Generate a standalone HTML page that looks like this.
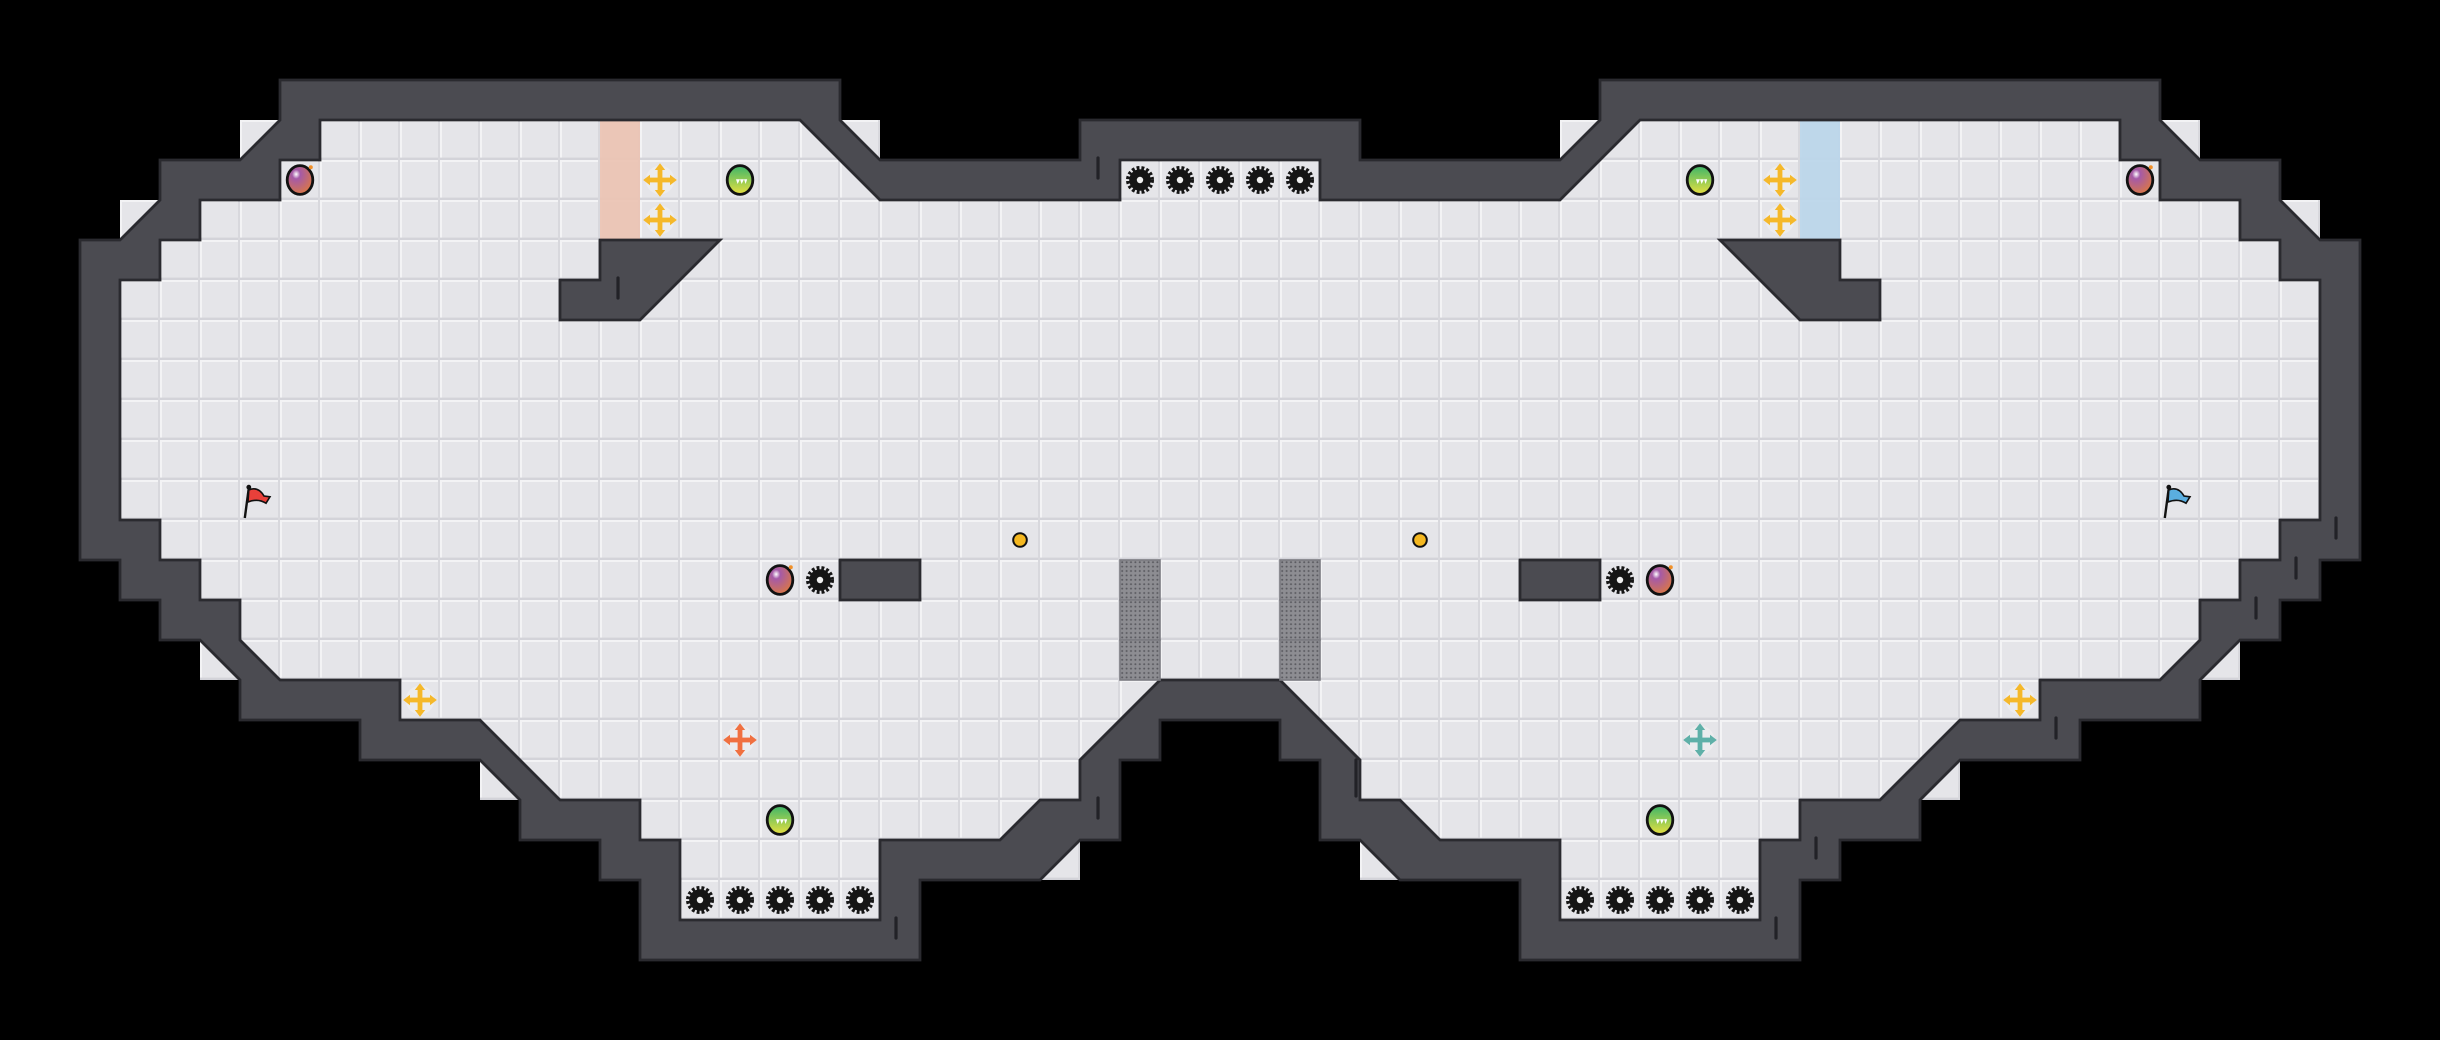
<!DOCTYPE html>
<html><head><meta charset="utf-8"><style>html,body{margin:0;padding:0;background:#000}svg{display:block}</style></head>
<body>
<svg xmlns="http://www.w3.org/2000/svg" width="2440" height="1040" viewBox="0 0 61 26">
<defs>
<pattern id="tile" patternUnits="userSpaceOnUse" width="1" height="1">
<rect width="1" height="1" fill="#e5e5e9"/>
<rect x="0" y="0" width="1" height="0.05" fill="#f3f3f5"/>
<rect x="0" y="0" width="0.05" height="1" fill="#f3f3f5"/>
<rect x="0" y="0.94" width="1" height="0.06" fill="#d3d3d9"/>
<rect x="0.95" y="0" width="0.05" height="1" fill="#d8d8dd"/>
</pattern>
<pattern id="dots" patternUnits="userSpaceOnUse" width="0.11" height="0.11">
<rect width="0.11" height="0.11" fill="#8d8d92"/>
<circle cx="0.055" cy="0.055" r="0.025" fill="#5a5a60"/>
</pattern>
<radialGradient id="bombg" cx="0.35" cy="0.3" r="0.8">
<stop offset="0" stop-color="#ffffff"/><stop offset="0.2" stop-color="#a55aa8"/><stop offset="1" stop-color="#e07a3a"/>
</radialGradient>
<linearGradient id="greeng" x1="0" y1="0" x2="0" y2="1">
<stop offset="0" stop-color="#3cb56a"/><stop offset="1" stop-color="#e8e040"/>
</linearGradient>
<g id="bomb">
<ellipse rx="0.32" ry="0.36" fill="url(#bombg)" stroke="#111" stroke-width="0.07"/>
<circle cx="0.27" cy="-0.32" r="0.05" fill="#f0902a"/>
</g>
<g id="green">
<ellipse rx="0.32" ry="0.36" fill="url(#greeng)" stroke="#111" stroke-width="0.07"/>
<path d="M-0.18 -0.02 L0.18 -0.02 L0.14 0.1 L0.1 -0.02 L0.04 0.1 L0 -0.02 L-0.06 0.1 L-0.1 -0.02 Z" fill="#fff"/>
</g>
<g id="spike">
<circle r="0.3" fill="none" stroke="#151515" stroke-width="0.1" stroke-dasharray="0.07 0.05"/>
<circle r="0.27" fill="#151515"/>
<circle r="0.08" fill="#f0f0f0"/>
</g>
<g id="cross">
<circle r="0.36" fill="#ececee"/>
<rect x="-0.06" y="-0.3" width="0.12" height="0.6"/>
<rect x="-0.3" y="-0.06" width="0.6" height="0.12"/>
<path d="M0 -0.42 L0.13 -0.25 L-0.13 -0.25 Z M0 0.42 L0.13 0.25 L-0.13 0.25 Z M-0.42 0 L-0.25 0.13 L-0.25 -0.13 Z M0.42 0 L0.25 0.13 L0.25 -0.13 Z"/>
</g>
<g id="grate"><rect x="0" y="0" width="1" height="1" fill="url(#dots)" stroke="#7a7a80" stroke-width="0.04"/></g>
</defs>
<rect width="61" height="26" fill="#000"/>
<g fill="url(#tile)">
<polygon points="7,2 21,2 21,3 22,4 27,4 27,3 34,3 34,4 39,4 40,3 40,2 54,2 54,3 55,4 57,4 57,5 58,6 59,6 59,14 58,14 58,15 57,15 57,16 56,16 55,17 55,18 52,18 52,19 49,19 48,20 48,21 46,21 46,22 45,22 45,24 38,24 38,22 35,22 34,21 33,21 33,19 32,19 32,18 29,18 29,19 28,19 28,21 27,21 26,22 23,22 23,24 16,24 16,22 15,22 15,21 13,21 13,20 12,19 9,19 9,18 6,18 6,17 5,16 4,16 4,15 3,15 3,14 2,14 2,6 3,6 4,5 4,4 6,4 7,3"/>
<polygon points="6,3 7,3 6,4"/><polygon points="21,3 22,3 22,4"/><polygon points="3,5 4,5 3,6"/>
<polygon points="5,16 6,17 5,17"/><polygon points="12,19 13,20 12,20"/><polygon points="27,21 27,22 26,22"/>
<polygon points="55,3 54,3 55,4"/><polygon points="40,3 39,3 39,4"/><polygon points="58,5 57,5 58,6"/>
<polygon points="56,16 55,17 56,17"/><polygon points="49,19 48,20 49,20"/><polygon points="34,21 34,22 35,22"/>
</g>
<rect x="15" y="3" width="1" height="3" fill="#ebc4b4" opacity="0.95"/>
<rect x="45" y="3" width="1" height="3" fill="#bcd6ea" opacity="0.95"/>
<path fill-rule="evenodd" fill="#4b4b51" stroke="#2a2a2f" stroke-width="0.07" stroke-linejoin="miter" d="
M7,2 L21,2 21,3 22,4 27,4 27,3 34,3 34,4 39,4 40,3 40,2 54,2 54,3 55,4 57,4 57,5 58,6 59,6 59,14 58,14 58,15 57,15 57,16 56,16 55,17 55,18 52,18 52,19 49,19 48,20 48,21 46,21 46,22 45,22 45,24 38,24 38,22 35,22 34,21 33,21 33,19 32,19 32,18 29,18 29,19 28,19 28,21 27,21 26,22 23,22 23,24 16,24 16,22 15,22 15,21 13,21 13,20 12,19 9,19 9,18 6,18 6,17 5,16 4,16 4,15 3,15 3,14 2,14 2,6 3,6 4,5 4,4 6,4 7,3 Z
M8,3 L20,3 22,5 28,5 28,4 33,4 33,5 39,5 41,3 53,3 53,4 54,4 54,5 56,5 56,6 57,6 57,7 58,7 58,13 57,13 57,14 56,14 56,15 55,15 55,16 54,17 51,17 51,18 49,18 47,20 45,20 45,21 44,21 44,23 39,23 39,21 36,21 35,20 34,20 34,19 32,17 29,17 27,19 27,20 26,20 25,21 22,21 22,23 17,23 17,21 16,21 16,20 14,20 12,18 10,18 10,17 7,17 6,16 6,15 5,15 5,14 4,14 4,13 3,13 3,7 4,7 4,6 5,6 5,5 7,5 7,4 8,4 Z"/>
<g fill="#4b4b51" stroke="#2a2a2f" stroke-width="0.07">
<polygon points="15,6 18,6 16,8 14,8 14,7 15,7"/>
<polygon points="46,6 43,6 45,8 47,8 47,7 46,7"/>
<rect x="21" y="14" width="2" height="1"/>
<rect x="38" y="14" width="2" height="1"/>
</g>
<g stroke="#222227" stroke-width="0.08" stroke-linecap="round">
<line x1="15.45" y1="6.95" x2="15.45" y2="7.45"/>
<line x1="27.45" y1="3.95" x2="27.45" y2="4.45"/>
<line x1="27.45" y1="19.95" x2="27.45" y2="20.45"/>
<line x1="22.4" y1="22.95" x2="22.4" y2="23.45"/>
<line x1="44.4" y1="22.95" x2="44.4" y2="23.45"/>
<line x1="45.4" y1="20.95" x2="45.4" y2="21.45"/>
<line x1="51.4" y1="17.95" x2="51.4" y2="18.45"/>
<line x1="56.4" y1="14.95" x2="56.4" y2="15.45"/>
<line x1="57.4" y1="13.95" x2="57.4" y2="14.45"/>
<line x1="58.4" y1="12.95" x2="58.4" y2="13.45"/>
<line x1="33.9" y1="19" x2="33.9" y2="19.9"/>
</g>
<use href="#grate" x="28" y="14"/><use href="#grate" x="28" y="15"/><use href="#grate" x="28" y="16"/>
<use href="#grate" x="32" y="14"/><use href="#grate" x="32" y="15"/><use href="#grate" x="32" y="16"/>
<use href="#spike" x="28.5" y="4.5"/><use href="#spike" x="29.5" y="4.5"/><use href="#spike" x="30.5" y="4.5"/><use href="#spike" x="31.5" y="4.5"/><use href="#spike" x="32.5" y="4.5"/>
<use href="#spike" x="17.5" y="22.5"/><use href="#spike" x="18.5" y="22.5"/><use href="#spike" x="19.5" y="22.5"/><use href="#spike" x="20.5" y="22.5"/><use href="#spike" x="21.5" y="22.5"/>
<use href="#spike" x="39.5" y="22.5"/><use href="#spike" x="40.5" y="22.5"/><use href="#spike" x="41.5" y="22.5"/><use href="#spike" x="42.5" y="22.5"/><use href="#spike" x="43.5" y="22.5"/>
<use href="#spike" x="20.5" y="14.5"/><use href="#spike" x="40.5" y="14.5"/>
<use href="#bomb" x="7.5" y="4.5"/><use href="#bomb" x="53.5" y="4.5"/>
<use href="#bomb" x="19.5" y="14.5"/><use href="#bomb" x="41.5" y="14.5"/>
<use href="#green" x="18.5" y="4.5"/><use href="#green" x="42.5" y="4.5"/>
<use href="#green" x="19.5" y="20.5"/><use href="#green" x="41.5" y="20.5"/>
<g fill="#f5b82a">
<use href="#cross" x="16.5" y="4.5"/><use href="#cross" x="16.5" y="5.5"/>
<use href="#cross" x="44.5" y="4.5"/><use href="#cross" x="44.5" y="5.5"/>
<use href="#cross" x="10.5" y="17.5"/><use href="#cross" x="50.5" y="17.5"/>
</g>
<g fill="#f07040"><use href="#cross" x="18.5" y="18.5"/></g>
<g fill="#5fb0a8"><use href="#cross" x="42.5" y="18.5"/></g>
<circle cx="25.5" cy="13.5" r="0.17" fill="#f5b820" stroke="#111" stroke-width="0.05"/>
<circle cx="35.5" cy="13.5" r="0.17" fill="#f5b820" stroke="#111" stroke-width="0.05"/>
<g transform="translate(6,12)">
<line x1="0.12" y1="0.95" x2="0.22" y2="0.2" stroke="#111" stroke-width="0.06"/>
<circle cx="0.22" cy="0.18" r="0.06" fill="#111"/>
<path d="M0.22 0.25 Q0.45 0.15 0.6 0.4 L0.75 0.42 L0.65 0.58 Q0.45 0.45 0.2 0.55 Z" fill="#e8403a" stroke="#111" stroke-width="0.04"/>
</g>
<g transform="translate(54,12)">
<line x1="0.12" y1="0.95" x2="0.22" y2="0.2" stroke="#111" stroke-width="0.06"/>
<circle cx="0.22" cy="0.18" r="0.06" fill="#111"/>
<path d="M0.22 0.25 Q0.45 0.15 0.6 0.4 L0.75 0.42 L0.65 0.58 Q0.45 0.45 0.2 0.55 Z" fill="#5aaee0" stroke="#111" stroke-width="0.04"/>
</g>
</svg>
</body></html>
